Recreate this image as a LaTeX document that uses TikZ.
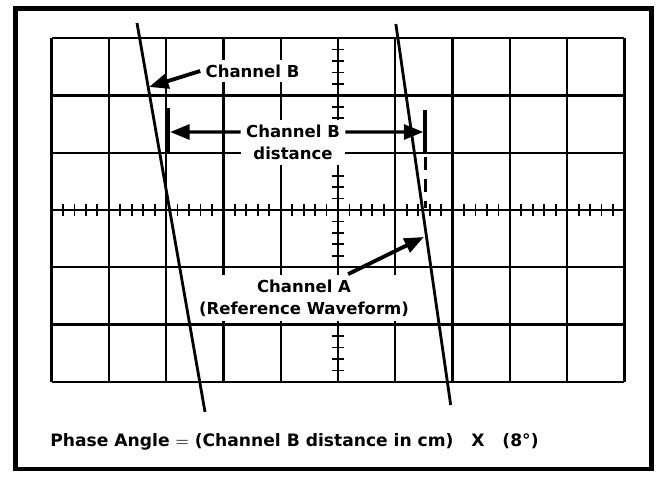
\documentclass[tikz,border=0pt]{standalone}
\usepackage{fontspec}
\setmainfont{DejaVu Sans}
\usepackage{tikz}
\usetikzlibrary{arrows.meta}

\begin{document}
\begin{tikzpicture}[
  gridline/.style={line width=1.1pt},
  trace/.style={line width=1.4pt},
  cbox/.style={fill=white,font=\fontsize{8.2}{11}\selectfont\bfseries,align=center,inner sep=2.5pt},
  pointer/.style={line width=1.6pt,-{Triangle[length=3.4mm,width=2.6mm]}}
]
\useasboundingbox (-5.899,-4.729) rectangle (5.620,3.665);

% Screen frame
\draw[line width=2.4pt] (-5.628,-4.520) rectangle (5.471,3.517);

% Graticule
\draw[gridline] (-5,-3) grid (5,3);
\foreach \x in {1,...,49}
{
\draw[line width=0.9pt] (-5+\x*0.2,-0.105)--(-5+\x*0.2,0.105);
}
\foreach \y in {1,...,29}
{
\draw[line width=0.9pt] (-0.105,-3+\y*0.2)--(0.105,-3+\y*0.2);
}

% Traces
\coordinate (bTop) at (-3.508,3.264);
\coordinate (bBot) at (-2.321,-3.525);
\coordinate (aTop) at (1.01,3.246);
\coordinate (aBot) at (1.967,-3.403);
\draw[trace] (bTop)--(bBot);
\draw[trace] (aTop)--(aBot);

% Distance markers
\draw[line width=2.2pt] (-2.965,0.995)--(-2.965,1.78);
\draw[line width=2.2pt] (1.52,1.01)--(1.52,1.745);
\draw[line width=1.5pt,dash pattern=on 6.4pt off 4.5pt] (1.52,0.925)--(1.52,0.03);

% Labels
\node[cbox] (chB) at (-1.492,2.426) {Channel B};
\node[cbox] (dist) at (-0.785,1.178) {Channel B\\distance};
\node[cbox] (chA) at (-0.593,-1.536) {Channel A\\(Reference Waveform)};

\coordinate (bHit) at (-3.298,2.147);
\coordinate (lBar) at (-2.93,1.361);
\coordinate (rBar) at (1.49,1.361);
\coordinate (aHit) at (1.50,-0.471);

\draw[pointer,line width=1.9pt] (chB.west)--(bHit);
\draw[pointer] ([yshift=0.183cm]dist.west)--(lBar);
\draw[pointer] ([yshift=0.183cm]dist.east)--(rBar);
\draw[pointer,line width=1.9pt] ([xshift=0.77cm]chA.north)--(aHit);

% Formula
\node[font=\fontsize{8.5}{11}\selectfont\bfseries] (phase) at (-0.759,-4.049)
  {Phase Angle $=$ (Channel B distance in cm)\ \ \ X\ \ \ (8°)};

\end{tikzpicture}
\end{document}
